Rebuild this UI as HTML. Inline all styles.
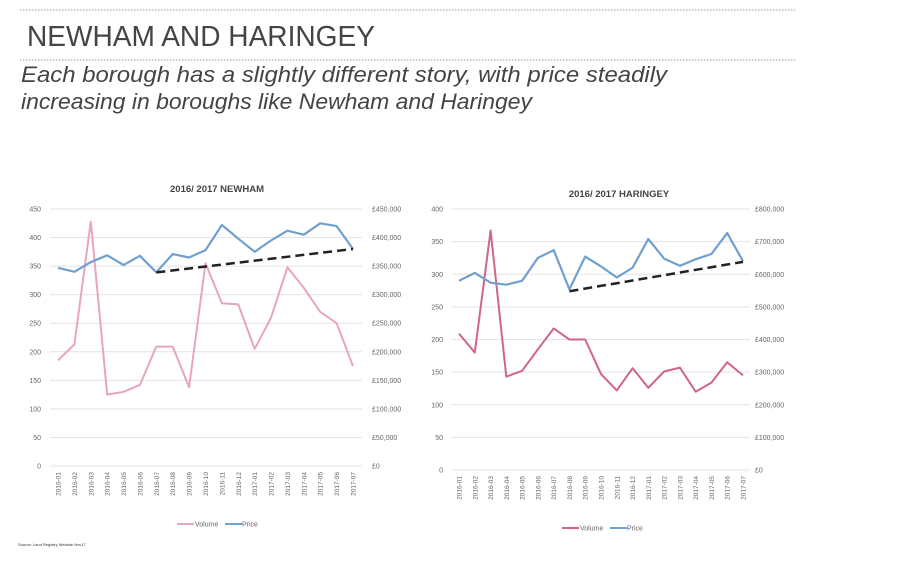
<!DOCTYPE html>
<html><head><meta charset="utf-8"><style>
html,body{margin:0;padding:0;background:#fff;}
svg{display:block;font-family:"Liberation Sans",sans-serif;}
</style></head><body>
<svg width="908" height="563" viewBox="0 0 908 563" xmlns="http://www.w3.org/2000/svg">
<line x1="20" y1="10" x2="795" y2="10" stroke="#999" stroke-dasharray="1.5,1.5"/>
<line x1="20" y1="60" x2="795" y2="60" stroke="#999" stroke-dasharray="1.5,1.5"/>
<text x="27" y="46" font-size="29" fill="#444" textLength="348" lengthAdjust="spacingAndGlyphs">NEWHAM AND HARINGEY</text>
<text x="21" y="82" font-size="22" font-style="italic" fill="#444" textLength="646" lengthAdjust="spacingAndGlyphs">Each borough has a slightly different story, with price steadily</text>
<text x="21" y="109" font-size="22" font-style="italic" fill="#444" textLength="511" lengthAdjust="spacingAndGlyphs">increasing in boroughs like Newham and Haringey</text>
<g id="c1"></g>
<g id="c2"></g>
<text x="18" y="546" font-size="4" fill="#333">Source: Land Registry Website Nov17</text>
</svg>
<script>
const NS="http://www.w3.org/2000/svg";
const months=["2016-01","2016-02","2016-03","2016-04","2016-05","2016-06","2016-07","2016-08","2016-09","2016-10","2016-11","2016-12","2017-01","2017-02","2017-03","2017-04","2017-05","2017-06","2017-07"];
function el(p,t,a,txt){const e=document.createElementNS(NS,t);for(const k in a)e.setAttribute(k,a[k]);if(txt!==undefined)e.textContent=txt;p.appendChild(e);return e;}
function chart(g,o){
  const sy=v=>o.y0-(v/o.max)*(o.y0-o.yTop);
  const sx=i=>o.x0+i*(o.x1-o.x0)/18;
  el(g,"text",{x:o.tx,y:o.ty,"font-size":9.5,"font-weight":"bold",fill:"#444","text-anchor":"middle"},o.title);
  for(let i=0;i<=o.max/50;i++){const v=i*50,y=sy(v);
    el(g,"line",{x1:o.gx0,x2:o.gx1,y1:y,y2:y,stroke:"#e4e4e4","stroke-width":1});
    el(g,"text",{x:o.lx,y:y+2.5,"font-size":7,fill:"#666","text-anchor":"end"},String(v));
    el(g,"text",{x:o.rx,y:y+2.5,"font-size":7,fill:"#666"},"£"+(v*o.pm).toLocaleString("en-GB"));
  }
  months.forEach((m,i)=>{el(g,"text",{transform:`translate(${sx(i)+2.5},${o.y0+6}) rotate(-90)`,"font-size":6.5,fill:"#666","text-anchor":"end"},m);});
  const pts=a=>a.map((v,i)=>sx(i).toFixed(1)+","+sy(v).toFixed(1)).join(" ");
  el(g,"polyline",{points:pts(o.vol),fill:"none",stroke:o.vc,"stroke-width":2,"stroke-linejoin":"round"});
  el(g,"polyline",{points:pts(o.price),fill:"none",stroke:"#6fa0cf","stroke-width":2.2,"stroke-linejoin":"round"});
  el(g,"line",{x1:sx(o.t[0]),y1:sy(o.t[1]),x2:sx(18),y2:sy(o.t[2]),stroke:"#222","stroke-width":2.5,"stroke-dasharray":"9,5"});
  const ly=o.ly,lx=o.lxc;
  el(g,"line",{x1:lx-45,x2:lx-28,y1:ly,y2:ly,stroke:o.vc,"stroke-width":2});
  el(g,"text",{x:lx-27,y:ly+2.5,"font-size":7,fill:"#666"},"Volume");
  el(g,"line",{x1:lx+3,x2:lx+20,y1:ly,y2:ly,stroke:"#6fa0cf","stroke-width":2});
  el(g,"text",{x:lx+20,y:ly+2.5,"font-size":7,fill:"#666"},"Price");
}
chart(document.getElementById("c1"),{title:"2016/ 2017 NEWHAM",tx:217,ty:192,max:450,pm:1000,y0:466,yTop:209,x0:58,x1:353,gx0:50,gx1:362,lx:41,rx:372,
 vol:[185,213,428,125,130,142,209,209,138,355,285,283,205,260,348,312,270,250,175],
 price:[347,340,357,369,352,368,339,371,365,378,422,398,375,395,412,405,425,420,380],
 t:[6,339,380],vc:"#e8a5bf",ly:524,lxc:222});
chart(document.getElementById("c2"),{title:"2016/ 2017 HARINGEY",tx:619,ty:197,max:400,pm:2000,y0:470,yTop:209,x0:459,x1:743,gx0:451,gx1:750,lx:443,rx:755,
 vol:[209,180,367,143,152,185,217,200,200,147,122,156,126,151,157,120,134,165,145],
 price:[290,302,287,284,290,325,337,277,327,312,295,310,354,324,313,323,331,363,320],
 t:[7,274,319],vc:"#d0648c",ly:528,lxc:607});
</script>
</body></html>
